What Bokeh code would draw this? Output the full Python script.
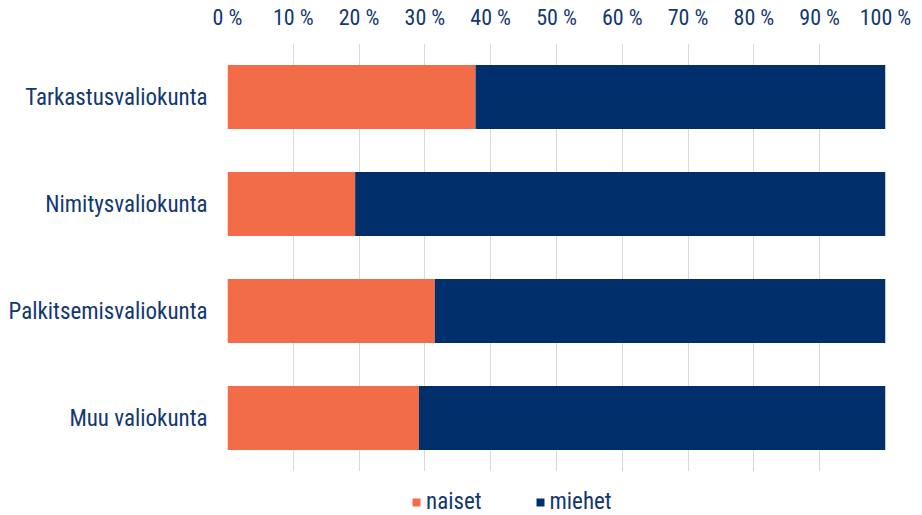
from bokeh.plotting import figure
from bokeh.layouts import column
from bokeh.models import FactorRange, LinearAxis, Legend, LegendItem, FixedTicker, CustomJSTickFormatter, Range1d, ColumnDataSource
from bokeh.embed import file_html
from bokeh.resources import INLINE

categories = ["Tarkastusvaliokunta", "Nimitysvaliokunta", "Palkitsemisvaliokunta", "Muu valiokunta"]
naiset = [37.7, 19.4, 31.5, 29.1]
miehet = [62.3, 80.6, 68.5, 70.9]
ticks = [0, 10, 20, 30, 40, 50, 60, 70, 80, 90, 100]
series = ["naiset", "miehet"]

ORANGE = "#f26c48"
NAVY = "#002f6c"
TEXT = "#12386e"
FONT = "Liberation Sans Narrow, Roboto Condensed, Roboto"

p = figure(width=922, height=471, output_backend="svg", toolbar_location=None,
           y_range=FactorRange(*reversed(categories)), x_range=Range1d(0, 100),
           x_axis_location=None, min_border_left=227, min_border_right=37,
           min_border_top=43, min_border_bottom=0)
p.outline_line_color = None
p.background_fill_color = "white"
p.border_fill_color = "white"

src = ColumnDataSource(dict(cat=categories, naiset=naiset, miehet=miehet))
rs = p.hbar_stack(series, y="cat", height=0.6, color=[ORANGE, NAVY],
                  line_color=None, source=src)

top = LinearAxis(ticker=FixedTicker(ticks=ticks))
top.formatter = CustomJSTickFormatter(code="return tick + ' %';")
top.axis_line_color = None
top.major_tick_line_color = None
top.minor_tick_line_color = None
top.major_label_text_font = FONT
top.major_label_text_font_size = "22px"
top.major_label_text_color = TEXT
top.major_label_standoff = 8
p.add_layout(top, "above")

p.xgrid.ticker = FixedTicker(ticks=ticks)
p.xgrid.grid_line_color = "#d9d9d9"
p.xgrid.grid_line_width = 1
p.ygrid.grid_line_color = None

ya = p.yaxis[0]
ya.axis_line_color = None
ya.major_tick_line_color = None
ya.minor_tick_line_color = None
ya.major_label_text_font = FONT
ya.major_label_text_font_size = "23px"
ya.major_label_text_color = TEXT
ya.major_label_standoff = 14

# legend strip below the chart (its frame is aligned with the chart's frame)
p2 = figure(width=922, height=44, output_backend="svg", toolbar_location=None,
            min_border_left=227, min_border_right=37, min_border_top=0, min_border_bottom=0,
            x_range=Range1d(0, 100), y_range=FactorRange(*reversed(categories)))
p2.axis.visible = False
p2.grid.visible = False
p2.outline_line_color = None
p2.border_fill_color = "white"
p2.background_fill_color = "white"
lr = p2.hbar_stack(series, y="cat", height=0.6, color=[ORANGE, NAVY],
                   line_color=None, source=src)
for r in lr:
    r.visible = False

legend = Legend(items=[LegendItem(label=s, renderers=[r]) for s, r in zip(series, lr)],
                orientation="horizontal", location=(184, 0))
legend.label_text_font = FONT
legend.label_text_font_size = "23px"
legend.label_text_color = TEXT
legend.label_height = 20
legend.glyph_width = 10
legend.glyph_height = 10
legend.spacing = 53
legend.padding = 0
legend.margin = 0
legend.border_line_color = None
legend.background_fill_alpha = 0
legend.inactive_fill_alpha = 0
legend.label_standoff = 5
p2.add_layout(legend, "center")

open("out.html", "w").write(file_html(column(p, p2, spacing=0), INLINE))
